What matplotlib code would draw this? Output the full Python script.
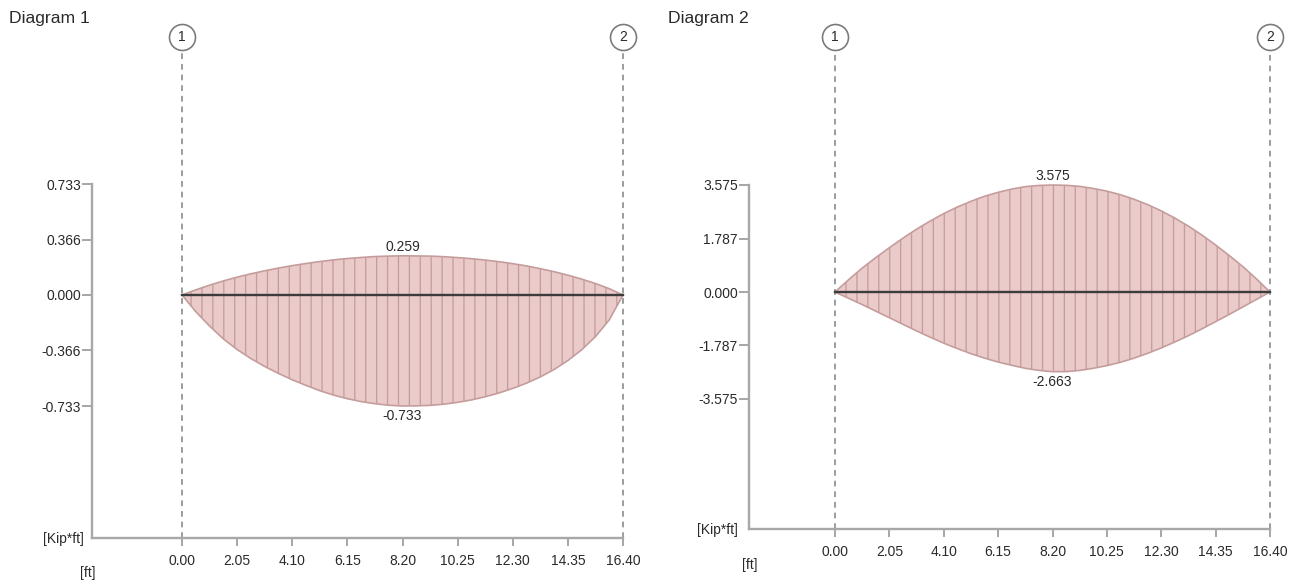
import numpy as np
import matplotlib
matplotlib.use("Agg")
import matplotlib.pyplot as plt

# ---------------- data ----------------
stations = [0.0, 0.5125, 1.025, 1.5375, 2.05, 2.5625, 3.075, 3.5875, 4.1,
            4.6125, 5.125, 5.6375, 6.15, 6.6625, 7.175, 7.6875, 8.2,
            8.7125, 9.225, 9.7375, 10.25, 10.7625, 11.275, 11.7875, 12.3,
            12.8125, 13.325, 13.8375, 14.35, 14.8625, 15.375, 15.8875, 16.4]

d1_top = [0.0, 0.034, 0.065, 0.093, 0.118, 0.140, 0.160, 0.178, 0.194,
          0.208, 0.221, 0.232, 0.241, 0.248, 0.254, 0.257, 0.259,
          0.258, 0.257, 0.253, 0.247, 0.240, 0.231, 0.220, 0.207,
          0.192, 0.174, 0.154, 0.131, 0.105, 0.076, 0.042, 0.0]
d1_bot = [0.0, -0.110, -0.205, -0.290, -0.360, -0.420, -0.472, -0.518, -0.560,
          -0.597, -0.632, -0.661, -0.685, -0.704, -0.718, -0.728, -0.733,
          -0.732, -0.729, -0.721, -0.709, -0.693, -0.672, -0.647, -0.617,
          -0.582, -0.541, -0.492, -0.433, -0.362, -0.275, -0.165, 0.0]

d2_top = [0.0, 0.41, 0.80, 1.15, 1.48, 1.80, 2.10, 2.37, 2.62,
          2.84, 3.03, 3.20, 3.33, 3.44, 3.52, 3.56, 3.575,
          3.565, 3.53, 3.46, 3.37, 3.25, 3.10, 2.92, 2.71,
          2.47, 2.20, 1.90, 1.57, 1.22, 0.85, 0.44, 0.0]
d2_bot = [0.0, -0.21, -0.42, -0.64, -0.86, -1.08, -1.30, -1.51, -1.71,
          -1.89, -2.06, -2.21, -2.34, -2.45, -2.55, -2.62, -2.663,
          -2.66, -2.62, -2.55, -2.46, -2.35, -2.21, -2.05, -1.87,
          -1.67, -1.46, -1.23, -0.99, -0.75, -0.50, -0.25, 0.0]

x_ticks = [0.00, 2.05, 4.10, 6.15, 8.20, 10.25, 12.30, 14.35, 16.40]
x_tick_labels = ["0.00", "2.05", "4.10", "6.15", "8.20", "10.25", "12.30", "14.35", "16.40"]
d1_y_ticks = [0.733, 0.366, 0.0, -0.366, -0.733]
d1_y_labels = ["0.733", "0.366", "0.000", "-0.366", "-0.733"]
d2_y_ticks = [3.575, 1.787, 0.0, -1.787, -3.575]
d2_y_labels = ["3.575", "1.787", "0.000", "-1.787", "-3.575"]
titles = ["Diagram 1", "Diagram 2"]
node_labels = ["1", "2"]
y_unit = "[Kip*ft]"
x_unit = "[ft]"

# ---------------- figure ----------------
W, H, DPI = 1298, 584, 131
plt.rcParams['font.family'] = ['Liberation Sans', 'DejaVu Sans']
plt.rcParams['hatch.linewidth'] = 0.7
fig = plt.figure(figsize=(W / DPI, H / DPI), dpi=DPI)
fig.patch.set_facecolor("white")

TXT = "#2a2a2a"
AX = "#a8a8a8"
FILL = "#ebcaca"
EDGE = "#c49c9c"


def pt(px):
    return px * 72.0 / DPI


def draw(layout, top, bot, yticks, ylabels, title):
    (ax_l, ax_r, ax_b, x0px, x1px, y0px, ytop_px, title_x,
     unit_y_x, unit_x_x, unit_x_y) = layout
    ppf = (x1px - x0px) / 16.4
    ppu = (y0px - ytop_px) / yticks[0]
    xmin = (ax_l - x0px) / ppf
    xmax = (ax_r - x0px) / ppf
    ymin = -(ax_b - y0px) / ppu
    ymax = y0px / ppu
    ax = fig.add_axes([ax_l / W, 1 - ax_b / H, (ax_r - ax_l) / W, ax_b / H])
    ax.set_xlim(xmin, xmax)
    ax.set_ylim(ymin, ymax)
    ax.patch.set_alpha(0)
    for s in ("top", "right"):
        ax.spines[s].set_visible(False)
    for s in ("left", "bottom"):
        ax.spines[s].set_color(AX)
        ax.spines[s].set_linewidth(1.3)
    ax.spines["left"].set_bounds(ymin, yticks[0])
    ax.spines["bottom"].set_bounds(xmin, 16.4)
    ax.set_xticks(x_ticks)
    ax.set_xticklabels(x_tick_labels)
    ax.set_yticks(yticks)
    ax.set_yticklabels(ylabels)
    ax.tick_params(axis="x", length=pt(8), width=1.1, color=AX, pad=pt(8),
                   labelsize=7.6, labelcolor=TXT)
    ax.tick_params(axis="y", length=pt(10), width=1.1, color=AX, pad=pt(1),
                   labelsize=7.6, labelcolor=TXT)

    # dashed node lines
    dash_top = (y0px - 51) / ppu
    for xv in (0.0, 16.4):
        ax.plot([xv, xv], [ymin, dash_top], color="#8a8a8a", lw=0.9,
                ls=(0, (3.5, 3)), clip_on=False, zorder=1)
    # node circles
    circ_y = (y0px - 37) / ppu
    for xv, lab in zip((0.0, 16.4), node_labels):
        ax.plot([xv], [circ_y], marker="o", ms=pt(26), mfc="white",
                mec="#7a7a7a", mew=0.9, clip_on=False, zorder=3)
        ax.text(xv, circ_y, lab, ha="center", va="center", fontsize=7.6,
                color=TXT, zorder=4, clip_on=False)

    # diagram fill
    ax.fill_between(stations, bot, top, facecolor=FILL, edgecolor=EDGE,
                    hatch="||", lw=0.9, zorder=2)
    ax.plot([0, 16.4], [0, 0], color="#3c3c3c", lw=1.3, zorder=3)

    # extreme value labels
    imax = int(np.argmax(top))
    imin = int(np.argmin(bot))
    ax.annotate(f"{top[imax]:.3f}", (stations[imax], top[imax]),
                xytext=(0, pt(2)), textcoords="offset points",
                ha="center", va="bottom", fontsize=7.6, color=TXT)
    ax.annotate(f"{bot[imin]:.3f}", (stations[imin], bot[imin]),
                xytext=(0, -pt(3)), textcoords="offset points",
                ha="center", va="top", fontsize=7.6, color=TXT)

    # units and title
    fig.text(unit_y_x / W, 1 - (ax_b + 1) / H, y_unit, ha="right",
             va="center", fontsize=7.6, color=TXT)
    fig.text(unit_x_x / W, 1 - unit_x_y / H, x_unit, ha="center",
             va="center", fontsize=7.6, color=TXT)
    fig.text(title_x / W, 1 - 18 / H, title, ha="left", va="center",
             fontsize=9.6, color=TXT)


# layout: ax_l, ax_r, ax_b, x0px, x1px, y0px, ytop_px, title_x, unit_y_x, unit_x_x, unit_x_y
draw((92, 660, 538, 182, 623, 295, 184, 9, 84, 88, 573),
     d1_top, d1_bot, d1_y_ticks, d1_y_labels, titles[0])
draw((749, 1298, 529, 835, 1270, 292, 185, 668, 738, 750, 565),
     d2_top, d2_bot, d2_y_ticks, d2_y_labels, titles[1])

fig.savefig("out.png", dpi=DPI, facecolor="white")
